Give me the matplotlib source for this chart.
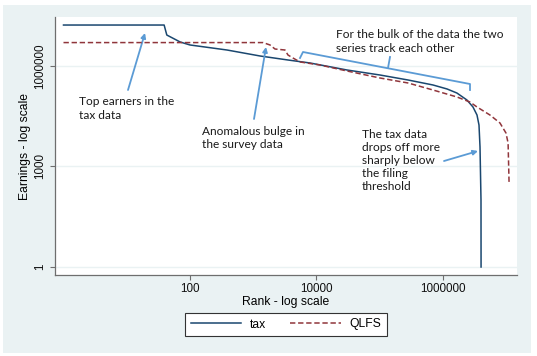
import matplotlib
matplotlib.use('Agg')
import matplotlib.pyplot as plt
from matplotlib.patches import Rectangle

# rank vs earnings
tax_rank = [1, 39, 43, 70, 100, 385, 1280, 3540, 7880, 30300, 101000, 280000,
            695000, 1160000, 1660000, 2390000, 2980000, 3450000, 3710000,
            3850000, 3990000, 4000000]
tax_earn = [1.67e7, 1.67e7, 8.4e6, 5.2e6, 4.24e6, 3.0e6, 1.99e6, 1.51e6, 1.23e6,
            7.6e5, 5.38e5, 3.82e5, 2.71e5, 2.06e5, 1.56e5, 9.66e4, 5.97e4, 3.44e4,
            1.73e4, 3820, 100, 1]

qlfs_rank = [1, 1430, 1840, 2210, 3180, 3540, 4250, 5480, 11350, 30300, 101000,
             280000, 695000, 1660000, 2670000, 3450000, 5530000, 7960000,
             9900000, 10700000, 11100000]
qlfs_earn = [5.0e6, 5.0e6, 4.24e6, 3.21e6, 3.0e6, 2.13e6, 1.73e6, 1.32e6, 1.07e6,
             7.1e5, 4.38e5, 3.11e5, 1.92e5, 1.19e5, 8.4e4, 5.97e4, 3.44e4, 1.99e4,
             1.0e4, 5020, 300]

x_ticks = [100, 10000, 1000000]
y_ticks = [1, 1000, 1000000]

W, H = 537, 356
TAX_COL = '#1a476f'
QLFS_COL = '#90353b'
ARROW_COL = '#5b9bd5'
BG = '#eaf2f3'
AX_FONT = 'Liberation Sans'
NOTE_FONT = 'Lato'

fig = plt.figure(figsize=(W / 100, H / 100), dpi=100)
fig.patch.set_facecolor('white')
fig.patches.append(Rectangle((3 / W, 3 / H), 528 / W, 348 / H, transform=fig.transFigure,
                             facecolor=BG, edgecolor='none', zorder=-10))

ax = fig.add_axes([55 / W, 81 / H, 462 / W, 258 / H])
ax.set_facecolor('white')

ax.plot(tax_rank, tax_earn, color=TAX_COL, lw=1.1, label='tax', zorder=3)
ax.plot(qlfs_rank, qlfs_earn, color=QLFS_COL, lw=1.1, linestyle=(0, (3.5, 1.8)),
        label='QLFS', zorder=4)

ax.set_xscale('log')
ax.set_yscale('log')
ax.set_xlim(0.734, 1.48e7)
ax.set_ylim(0.577, 2.9e7)
ax.set_xticks(x_ticks)
ax.set_xticklabels([str(v) for v in x_ticks])
ax.set_yticks(y_ticks)
ax.set_yticklabels([str(v) for v in y_ticks], rotation=90, va='center')
ax.minorticks_off()

for s in ['top', 'right']:
    ax.spines[s].set_visible(False)
for s in ['left', 'bottom']:
    ax.spines[s].set_color('#6e6e6e')
    ax.spines[s].set_linewidth(0.9)

ax.tick_params(direction='out', length=3.6, width=0.8, color='#6e6e6e',
               labelsize=8.4, pad=2.5)
for lab in ax.get_xticklabels() + ax.get_yticklabels():
    lab.set_fontfamily(AX_FONT)
    lab.set_color('#111111')

ax.grid(axis='y', color=BG, lw=1.0, zorder=0)
ax.set_axisbelow(True)

ax.set_xlabel('Rank - log scale', fontsize=8.7, family=AX_FONT, labelpad=0.5)
ax.set_ylabel('Earnings - log scale', fontsize=8.7, family=AX_FONT, labelpad=2.5)

leg = ax.legend(loc='center', bbox_to_anchor=(286 / W, 31.5 / H),
                bbox_transform=fig.transFigure, ncol=2, prop={'family': AX_FONT, 'size': 8.7},
                handlelength=4.2, handletextpad=0.7, columnspacing=2.0,
                borderpad=0.45, fancybox=False, framealpha=1, edgecolor='#333333')
leg.get_frame().set_linewidth(0.8)


def fp(x, y):
    # reference pixel position -> figure pixels
    return (x, H - y)


note_kw = dict(xycoords='figure pixels', textcoords='figure pixels', fontsize=8.6,
               family=NOTE_FONT, color='#1a1a1a', ha='left', va='center',
               linespacing=1.25)
arrow_kw = dict(arrowstyle='-|>', color=ARROW_COL, lw=1.3, mutation_scale=7,
                shrinkA=0, shrinkB=0)

ax.annotate('', xy=fp(145, 33), xytext=fp(128, 90), arrowprops=arrow_kw, **note_kw)
ax.annotate('Top earners in the\ntax data', xy=fp(79, 108.5), **note_kw)

ax.annotate('', xy=fp(266, 47), xytext=fp(254, 119), arrowprops=arrow_kw, **note_kw)
ax.annotate('Anomalous bulge in\nthe survey data', xy=fp(202, 138), **note_kw)

ax.annotate('For the bulk of the data the two\nseries track each other', xy=fp(336, 41.5),
            **note_kw)
bx = [300, 303, 470, 470]
by = [58, 52, 84, 90]
fig.add_artist(plt.Line2D([x / W for x in bx], [1 - y / H for y in by],
                          transform=fig.transFigure, color=ARROW_COL, lw=1.3))
fig.add_artist(plt.Line2D([388 / W, 390 / W], [1 - 68 / H, 1 - 57 / H],
                          transform=fig.transFigure, color=ARROW_COL, lw=1.3))

ax.annotate('The tax data\ndrops off more\nsharply below\nthe filing\nthreshold',
            xy=fp(362, 160.5), **note_kw)
ax.annotate('', xy=fp(478, 151), xytext=fp(444, 161), arrowprops=arrow_kw, **note_kw)

fig.savefig('out.png', dpi=100)
